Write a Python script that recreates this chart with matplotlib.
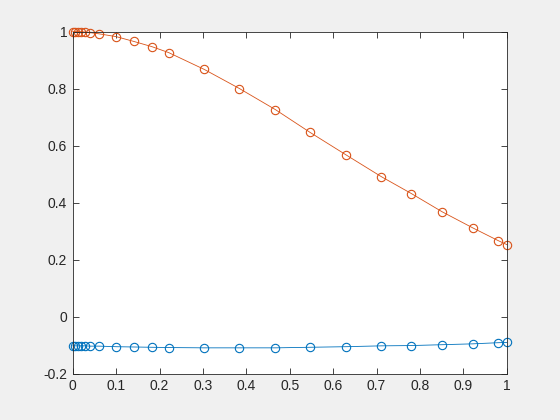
import matplotlib
matplotlib.use('Agg')
import matplotlib.pyplot as plt

plt.rcParams['font.family'] = ['Liberation Sans', 'DejaVu Sans']

# node positions (shared by both curves)
x = [0.0, 0.006, 0.012, 0.02, 0.028, 0.039, 0.06, 0.1, 0.141, 0.182, 0.221,
     0.303, 0.384, 0.467, 0.547, 0.629, 0.711, 0.780, 0.851, 0.921, 0.980, 1.0]

y_orange = [1.0, 1.0, 1.0, 0.999, 0.998, 0.996, 0.992, 0.982, 0.965, 0.947, 0.926,
            0.867, 0.800, 0.726, 0.646, 0.568, 0.491, 0.432, 0.368, 0.312, 0.267, 0.253]

y_blue = [-0.102, -0.102, -0.102, -0.102, -0.102, -0.103, -0.103, -0.105, -0.106, -0.107, -0.108,
          -0.109, -0.109, -0.109, -0.107, -0.105, -0.102, -0.101, -0.098, -0.095, -0.091, -0.090]

fig = plt.figure(figsize=(5.6, 4.2), dpi=100, facecolor='#f0f0f0')
ax = fig.add_axes([0.13, 0.11, 0.775, 0.815])

ax.plot(x, y_blue, '-o', color='#0072BD', mfc='none', ms=6, lw=0.6, mew=0.8, clip_on=False)
ax.plot(x, y_orange, '-o', color='#D95319', mfc='none', ms=6, lw=0.6, mew=0.8, clip_on=False)

ax.set_xlim(0, 1)
ax.set_ylim(-0.2, 1)
ax.set_xticks([0, 0.1, 0.2, 0.3, 0.4, 0.5, 0.6, 0.7, 0.8, 0.9, 1])
ax.set_xticklabels(['0', '0.1', '0.2', '0.3', '0.4', '0.5', '0.6', '0.7', '0.8', '0.9', '1'])
ax.set_yticks([-0.2, 0, 0.2, 0.4, 0.6, 0.8, 1])
ax.set_yticklabels(['-0.2', '0', '0.2', '0.4', '0.6', '0.8', '1'])
ax.tick_params(direction='in', top=True, right=True, length=4, width=0.6,
               labelsize=10, colors='#262626', pad=4)
for s in ax.spines.values():
    s.set_linewidth(0.6)
    s.set_color('#262626')

fig.savefig('out.png', dpi=100, facecolor=fig.get_facecolor())
